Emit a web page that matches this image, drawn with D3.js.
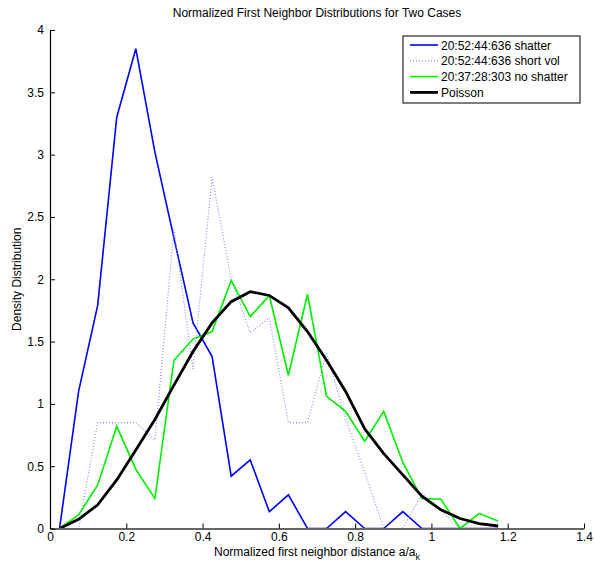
<!DOCTYPE html>
<html>
<head>
<meta charset="utf-8">
<script src="https://cdn.jsdelivr.net/npm/d3@7"></script>
<style>
  body { margin: 0; background: #fff; }
  svg text { font-family: "Liberation Sans", Arial, sans-serif; fill: #000; }
</style>
</head>
<body>
<div id="chart"></div>
<script>
// bin centres (normalized first neighbor distance)
var binCenters = [0.025, 0.075, 0.125, 0.175, 0.225, 0.275, 0.325, 0.375, 0.425, 0.475,
                  0.525, 0.575, 0.625, 0.675, 0.725, 0.775, 0.825, 0.875, 0.925, 0.975,
                  1.025, 1.075, 1.125, 1.175];

var shatter   = [0, 1.10, 1.79, 3.30, 3.85, 3.02, 2.33, 1.65, 1.38, 0.42,
                 0.55, 0.135, 0.27, 0, 0, 0.135, 0, 0, 0.135, 0,
                 0, 0, 0, 0];
var shortVol  = [0, 0, 0.85, 0.85, 0.85, 0.71, 2.40, 1.28, 2.82, 2.00,
                 1.57, 1.69, 0.85, 0.85, 1.41, 0.88, 0.45, 0, 0, 0.28,
                 0.14, 0, 0, 0];
var noShatter = [0, 0.11, 0.35, 0.82, 0.475, 0.24, 1.35, 1.52, 1.58, 1.99,
                 1.70, 1.87, 1.23, 1.88, 1.06, 0.94, 0.70, 0.94, 0.53, 0.24,
                 0.235, 0, 0.12, 0.06];
var poisson   = [0, 0.074, 0.19, 0.39, 0.63, 0.875, 1.15, 1.42, 1.65, 1.82,
                 1.90, 1.87, 1.77, 1.58, 1.35, 1.10, 0.80, 0.60, 0.43, 0.26,
                 0.15, 0.08, 0.04, 0.02];

var xTicks = [0, 0.2, 0.4, 0.6, 0.8, 1, 1.2, 1.4];
var yTicks = [0, 0.5, 1, 1.5, 2, 2.5, 3, 3.5, 4];

var seriesNames = ['20:52:44:636 shatter', '20:52:44:636 short vol',
                   '20:37:28:303 no shatter', 'Poisson'];

var W = 595, H = 567;
var margin = { left: 50, right: 11, top: 30, bottom: 38.5 };

var svg = d3.select('#chart').append('svg')
  .attr('width', W).attr('height', H);

var x = d3.scaleLinear().domain([0, 1.4]).range([margin.left, W - margin.right]);
var y = d3.scaleLinear().domain([0, 4]).range([H - margin.bottom, margin.top]);

// series styles
var series = [
  { name: seriesNames[0], values: shatter,   color: '#0000ff', width: 1.6, dash: null },
  { name: seriesNames[1], values: shortVol,  color: '#8a8aff', width: 1.2, dash: '1,2' },
  { name: seriesNames[2], values: noShatter, color: '#00ee00', width: 1.6, dash: null },
  { name: seriesNames[3], values: poisson,   color: '#000000', width: 2.8, dash: null }
];

var line = d3.line()
  .x(function (d) { return x(d[0]); })
  .y(function (d) { return y(d[1]); });

series.forEach(function (s) {
  var pts = binCenters.map(function (c, i) { return [c, s.values[i]]; });
  svg.append('path')
    .datum(pts)
    .attr('d', line)
    .attr('fill', 'none')
    .attr('stroke', s.color)
    .attr('stroke-width', s.width)
    .attr('stroke-dasharray', s.dash)
    .attr('stroke-linejoin', 'miter');
});

// axes (MATLAB style, ticks pointing inward)
var xAxis = svg.append('g')
  .attr('transform', 'translate(0,' + (H - margin.bottom) + ')')
  .call(d3.axisBottom(x).tickValues(xTicks).tickSizeInner(-5).tickSizeOuter(0)
    .tickPadding(4).tickFormat(d3.format('')));
xAxis.select('.domain').attr('stroke', '#666').attr('stroke-width', 2);
xAxis.selectAll('.tick line').attr('stroke', '#000');
xAxis.selectAll('text').attr('font-size', '12px');

var yAxis = svg.append('g')
  .attr('transform', 'translate(' + margin.left + ',0)')
  .call(d3.axisLeft(y).tickValues(yTicks).tickSizeInner(-5).tickSizeOuter(0)
    .tickPadding(6).tickFormat(d3.format('')));
yAxis.select('.domain').attr('stroke', '#000').attr('stroke-width', 1.2);
yAxis.selectAll('.tick line').attr('stroke', '#000');
yAxis.selectAll('text').attr('font-size', '12px');

// title and labels
svg.append('text')
  .attr('x', (margin.left + W - margin.right) / 2).attr('y', 17)
  .attr('text-anchor', 'middle').attr('font-size', '12px')
  .text('Normalized First Neighbor Distributions for Two Cases');

var xl = svg.append('text')
  .attr('x', (margin.left + W - margin.right) / 2).attr('y', 556)
  .attr('text-anchor', 'middle').attr('font-size', '12px')
  .text('Normalized first neighbor distance a/a');
xl.append('tspan').attr('font-size', '9px').attr('dy', 4).text('k');

svg.append('text')
  .attr('transform', 'translate(21,' + ((margin.top + H - margin.bottom) / 2) + ') rotate(-90)')
  .attr('text-anchor', 'middle').attr('font-size', '12px')
  .text('Density Distribution');

// legend
var lg = svg.append('g').attr('transform', 'translate(403,36)');
lg.append('rect')
  .attr('width', 177).attr('height', 67)
  .attr('fill', '#fff').attr('stroke', '#000').attr('stroke-width', 1);
series.forEach(function (s, i) {
  var ry = 9 + i * 15.8;
  lg.append('line')
    .attr('x1', 7).attr('x2', 35).attr('y1', ry).attr('y2', ry)
    .attr('stroke', s.color)
    .attr('stroke-width', s.width)
    .attr('stroke-dasharray', s.dash);
  lg.append('text')
    .attr('x', 38).attr('y', ry + 4.5)
    .attr('font-size', '12px')
    .text(s.name);
});
</script>
</body>
</html>
